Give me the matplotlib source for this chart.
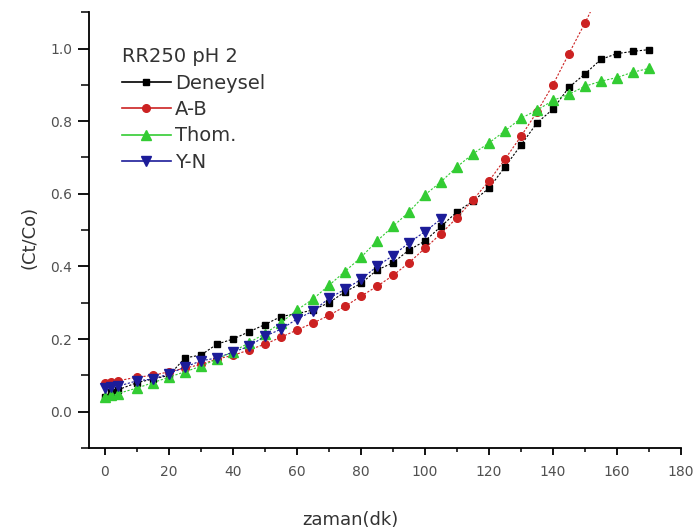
import matplotlib

matplotlib.use("Agg")
import matplotlib.pyplot as plt
from matplotlib.lines import Line2D
from matplotlib.ticker import MultipleLocator

plt.rcParams["font.family"] = ["DejaVu Sans"]

# time (min)
t = [0, 2, 4, 10, 15, 20, 25, 30, 35, 40, 45, 50, 55, 60, 65, 70, 75, 80, 85,
     90, 95, 100, 105, 110, 115, 120, 125, 130, 135, 140, 145, 150, 155, 160,
     165, 170]

deneysel = [0.04, 0.055, 0.06, 0.08, 0.09, 0.10, 0.148, 0.156, 0.186, 0.20,
            0.22, 0.24, 0.262, 0.27, 0.28, 0.30, 0.33, 0.353, 0.39, 0.41,
            0.445, 0.47, 0.51, 0.55, 0.58, 0.615, 0.674, 0.734, 0.795, 0.833,
            0.893, 0.93, 0.97, 0.986, 0.992, 0.997]

t_ab = t[:33]
ab = [0.08, 0.083, 0.085, 0.095, 0.10, 0.11, 0.12, 0.13, 0.145, 0.155, 0.17,
      0.186, 0.205, 0.225, 0.244, 0.265, 0.29, 0.318, 0.345, 0.375, 0.41,
      0.45, 0.49, 0.534, 0.583, 0.635, 0.695, 0.758, 0.825, 0.90, 0.986, 1.07,
      1.16]

thomas = [0.04, 0.045, 0.05, 0.065, 0.08, 0.095, 0.11, 0.125, 0.145, 0.165,
          0.19, 0.215, 0.245, 0.28, 0.31, 0.348, 0.386, 0.425, 0.47, 0.51,
          0.55, 0.597, 0.633, 0.674, 0.71, 0.74, 0.773, 0.808, 0.83, 0.857,
          0.874, 0.896, 0.91, 0.92, 0.935, 0.945]

t_yn = t[:23]
yn = [0.065, 0.068, 0.07, 0.085, 0.09, 0.104, 0.123, 0.14, 0.148, 0.164,
      0.18, 0.208, 0.227, 0.255, 0.277, 0.312, 0.337, 0.364, 0.40, 0.43,
      0.465, 0.496, 0.53]

fig = plt.figure(figsize=(6.98, 5.30), dpi=100)
ax = fig.add_axes([0.1275, 0.1547, 0.848, 0.8223])

ls = (0, (2, 1.5))
series = [
    (t, deneysel, "Deneysel", "black", "s", 5),
    (t_ab, ab, "A-B", "#cc2222", "o", 5.5),
    (t, thomas, "Thom.", "#33cc33", "^", 7),
    (t_yn, yn, "Y-N", "#1c1c99", "v", 7),
]
handles = []
for x, y, name, color, marker, ms in series:
    ax.plot(x, y, linestyle=ls, linewidth=0.8, color=color,
            marker=marker, markersize=ms, markerfacecolor=color,
            markeredgecolor=color)
    handles.append(Line2D([], [], linestyle="-", linewidth=1.2, color=color,
                          marker=marker, markersize=ms, label=name))

ax.set_xlim(-5, 180)
ax.set_ylim(-0.1, 1.1)
ax.xaxis.set_major_locator(MultipleLocator(20))
ax.xaxis.set_minor_locator(MultipleLocator(10))
ax.set_yticks([0.0, 0.2, 0.4, 0.6, 0.8, 1.0])
ax.set_yticklabels(["0.0", "0.2", "0.4", "0.6", "0.8", "1.0"])
ax.yaxis.set_minor_locator(MultipleLocator(0.1))

for side in ("top", "right"):
    ax.spines[side].set_visible(False)
for side in ("left", "bottom"):
    ax.spines[side].set_linewidth(1.3)

ax.tick_params(which="both", direction="out", labelsize=10,
               labelcolor="#505050", width=1.3)
ax.tick_params(axis="y", which="major", length=8, pad=4)
ax.tick_params(axis="y", which="minor", length=5.5, width=1.1)
ax.tick_params(axis="x", which="major", length=5, pad=7)
ax.tick_params(axis="x", which="minor", length=3, width=1.1)

ax.set_xlabel("zaman(dk)", fontsize=13, color="#333333", va="top")
ax.xaxis.set_label_coords(0.441, -0.1445)
ax.set_ylabel("(Ct/Co)", fontsize=13, color="#333333")
ax.yaxis.set_label_coords(-0.085, 0.484)

leg = fig.legend(handles=handles, title="RR250 pH 2", loc="upper left",
                 bbox_to_anchor=(0.175, 0.911), frameon=False, fontsize=14,
                 title_fontsize=14, handlelength=2.5, handletextpad=0.2,
                 labelspacing=0.38, borderpad=0, borderaxespad=0,
                 alignment="left")
for txt in leg.get_texts():
    txt.set_color("#333333")
leg.get_title().set_color("#333333")

fig.savefig("out.png", dpi=100)
